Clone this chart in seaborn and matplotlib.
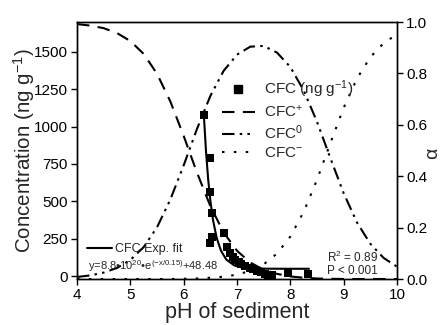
import matplotlib
matplotlib.use("Agg")
import matplotlib.pyplot as plt
import seaborn as sns
import pandas as pd
from matplotlib.lines import Line2D

# ---- data ----
ph_grid = [4.00, 4.25, 4.50, 4.75, 5.00, 5.25, 5.50, 5.75, 6.00, 6.25, 6.50, 6.75, 7.00,
           7.25, 7.50, 7.75, 8.00, 8.25, 8.50, 8.75, 9.00, 9.25, 9.50, 9.75, 10.00]
alpha_plus = [0.992, 0.986, 0.976, 0.957, 0.926, 0.876, 0.799, 0.691, 0.557, 0.414, 0.284,
              0.181, 0.110, 0.064, 0.036, 0.020, 0.010, 0.005, 0.002, 0.001, 0.000, 0.000,
              0.000, 0.000, 0.000]
alpha_zero = [0.008, 0.014, 0.025, 0.043, 0.074, 0.124, 0.201, 0.309, 0.442, 0.584, 0.712,
              0.810, 0.873, 0.904, 0.907, 0.881, 0.825, 0.734, 0.612, 0.471, 0.334, 0.220,
              0.137, 0.082, 0.048]
alpha_minus = [0.000, 0.000, 0.000, 0.000, 0.000, 0.000, 0.000, 0.000, 0.001, 0.002, 0.005,
               0.009, 0.017, 0.032, 0.057, 0.099, 0.165, 0.261, 0.386, 0.528, 0.666, 0.780,
               0.863, 0.918, 0.952]

obs_ph = [6.38, 6.49, 6.49, 6.53, 6.53, 6.49, 6.76, 6.81, 6.87, 6.92, 6.97, 7.03, 7.08,
          7.15, 7.24, 7.30, 7.38, 7.45, 7.52, 7.58, 7.65, 7.96, 8.34]
obs_conc = [1075, 790, 560, 420, 260, 222, 288, 194, 154, 125, 105, 92, 78,
            64, 55, 45, 35, 25, 15, 10, 5, 18, 15]

fit_ph = [6.38, 6.42, 6.46, 6.50, 6.55, 6.62, 6.70, 6.80, 6.95, 7.10, 7.30, 7.60, 8.00, 8.35]
fit_conc = [1070, 829, 646, 506, 376, 254, 169, 110, 71, 56, 50, 49, 48.5, 48.5]

xticks = [4, 5, 6, 7, 8, 9, 10]
yticks_left = [0, 250, 500, 750, 1000, 1250, 1500]
yticks_right = [0.0, 0.2, 0.4, 0.6, 0.8, 1.0]

# ---- style ----
sns.set_style("ticks")
plt.rcParams['font.family'] = ['Liberation Sans', 'DejaVu Sans']
plt.rcParams['mathtext.fontset'] = 'custom'
plt.rcParams['mathtext.rm'] = 'Liberation Sans'
plt.rcParams['mathtext.it'] = 'Liberation Sans'
plt.rcParams['mathtext.default'] = 'rm'

fig = plt.figure(figsize=(4.44, 3.25), dpi=100)
ax = fig.add_axes([0.1734, 0.1415, 0.7207, 0.7908])
ax2 = ax.twinx()

species = pd.DataFrame({"pH": ph_grid, "plus": alpha_plus, "zero": alpha_zero, "minus": alpha_minus})
lw = 1.5
dash_plus = (6, 4)
dash_zero = (6, 2.5, 1.2, 2.5, 1.2, 2.5)
dash_minus = (1.2, 4.5)
sns.lineplot(data=species, x="pH", y="plus", ax=ax2, color="black", lw=lw, dashes=False)
sns.lineplot(data=species, x="pH", y="zero", ax=ax2, color="black", lw=lw, dashes=False)
sns.lineplot(data=species, x="pH", y="minus", ax=ax2, color="black", lw=lw, dashes=False)
lines = ax2.get_lines()
lines[0].set_dashes(dash_plus)
lines[1].set_dashes(dash_zero)
lines[2].set_dashes(dash_minus)

obs = pd.DataFrame({"pH": obs_ph, "conc": obs_conc})
fit = pd.DataFrame({"pH": fit_ph, "conc": fit_conc})
sns.lineplot(data=fit, x="pH", y="conc", ax=ax, color="black", lw=1.5, sort=False)
sns.scatterplot(data=obs, x="pH", y="conc", ax=ax, marker="s", s=32, color="black",
                edgecolor="black", linewidth=0, zorder=5)

ax.set_xlim(4, 10)
ax.set_ylim(-20, 1700)
ax2.set_ylim(0, 1.0)
ax.set_xticks(xticks)
ax.set_yticks(yticks_left)
ax2.set_yticks(yticks_right)
ax2.set_yticklabels([f"{v:.1f}" for v in yticks_right])
ax.set_zorder(ax2.get_zorder() + 1)
ax.patch.set_visible(False)

for a in (ax, ax2):
    for s in a.spines.values():
        s.set_linewidth(1.0)
        s.set_color("black")
    a.tick_params(direction="out", length=4, width=1.0, labelsize=11, colors="black", pad=2.5)

ax.set_xlabel("pH of sediment", fontsize=15.5, labelpad=0)
ax.set_ylabel("Concentration (ng g$^{-1}$)", fontsize=14.8, va="center")
ax.yaxis.set_label_coords(-0.166, 0.5)
ax2.set_ylabel("α", fontsize=14, va="center")
ax2.yaxis.set_label_coords(1.11, 0.49)

handles = [
    Line2D([], [], marker="s", ls="none", color="black", markersize=6),
    Line2D([], [], color="black", lw=lw, dashes=dash_plus),
    Line2D([], [], color="black", lw=lw, dashes=dash_zero),
    Line2D([], [], color="black", lw=lw, dashes=dash_minus),
]
labels = ["CFC (ng g$^{-1}$)", "CFC$^{+}$", "CFC$^{0}$", "CFC$^{-}$"]
ax.legend(handles, labels, loc="upper left", bbox_to_anchor=(0.452, 0.78), frameon=False,
          fontsize=11, labelspacing=0.25, handlelength=2.2, handletextpad=0.6,
          borderaxespad=0, borderpad=0)

# fit legend-like annotation
ax2.legend([Line2D([], [], color="black", lw=1.5)], ["CFC Exp. fit"],
           loc="center left", bbox_to_anchor=(0.03, 0.117), frameon=False,
           fontsize=9, handlelength=2.0, handletextpad=0.3,
           borderaxespad=0, borderpad=0)
ax.text(0.035, 0.05, "y=8.8•10$^{20}$•e$^{(-x/0.15)}$+48.48", transform=ax.transAxes,
        fontsize=8, ha="left", va="center")
ax.text(0.78, 0.086, "R$^{2}$ = 0.89", transform=ax.transAxes, fontsize=8.5, ha="left", va="center")
ax.text(0.78, 0.031, "P < 0.001", transform=ax.transAxes, fontsize=8.5, ha="left", va="center")

fig.savefig("out.png", dpi=100)
